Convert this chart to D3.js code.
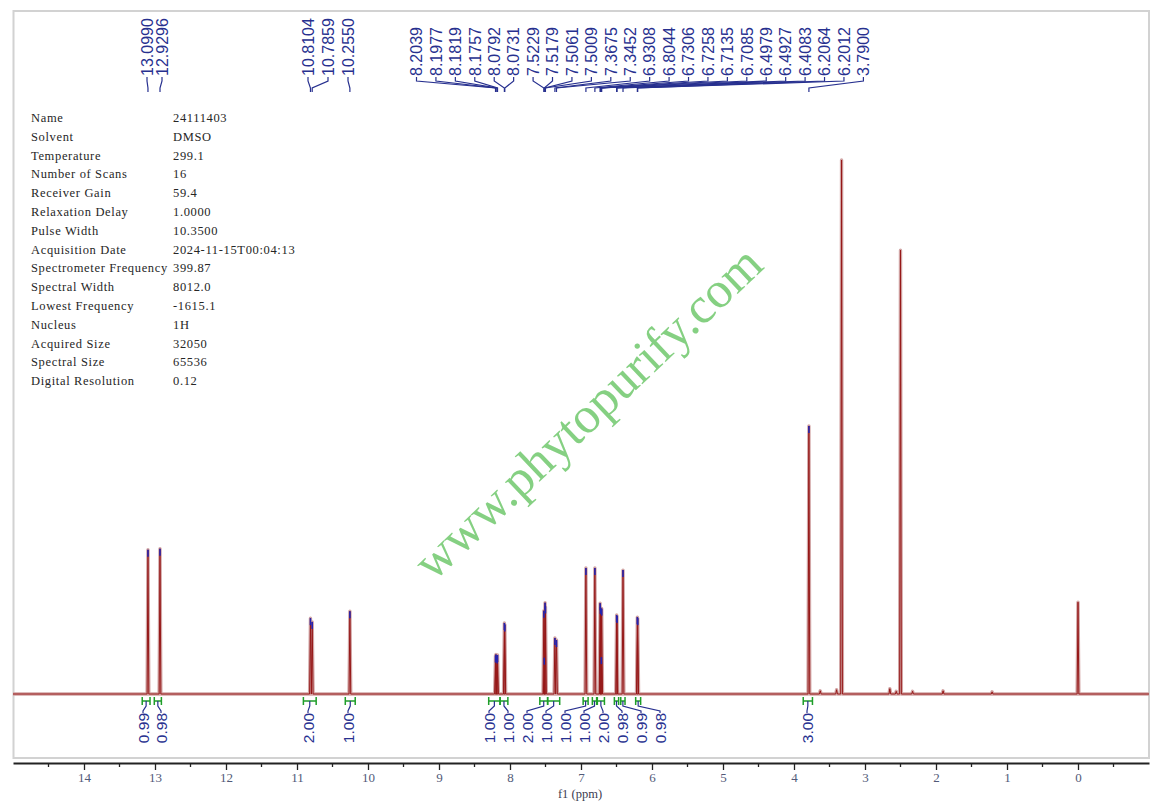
<!DOCTYPE html>
<html>
<head>
<meta charset="utf-8">
<script src="https://cdn.jsdelivr.net/npm/d3@7"></script>
<style>
  body { margin: 0; background: #fff; }
  svg { display: block; }
</style>
</head>
<body>
<div id="spectrum"></div>
<script>
// labelled peaks: shift (ppm) and relative height (water peak = 100)
var peakPpm = [13.0990, 12.9296, 10.8104, 10.7859, 10.2550, 8.2039, 8.1977, 8.1819, 8.1757,
  8.0792, 8.0731, 7.5229, 7.5179, 7.5061, 7.5009, 7.3675, 7.3452, 6.9308, 6.8044, 6.7306,
  6.7258, 6.7135, 6.7085, 6.4979, 6.4927, 6.4083, 6.2064, 6.2012, 3.7900];
var peakHeight = [27.0, 27.2, 14.2, 13.5, 15.5, 7.2, 7.4, 7.0, 7.3,
  13.3, 13.0, 15.6, 6.8, 17.1, 16.4, 10.5, 10.1, 23.6, 23.6, 17.0,
  16.3, 6.9, 16.0, 14.8, 14.6, 23.2, 14.4, 14.2, 50.2];

// solvent, water, TMS and small impurity peaks (not labelled)
var otherPpm = [3.33, 2.50, 0.00, 3.63, 3.40, 2.65, 2.56, 2.33, 1.90, 1.21];
var otherHeight = [100, 83.1, 17.2, 0.6, 0.8, 1.0, 0.5, 0.5, 0.6, 0.4];

// integrals
var intFrom = [13.18, 13.01, 10.91, 10.32, 8.30, 8.14, 7.58, 7.47, 6.97, 6.84, 6.77, 6.53, 6.44, 6.23, 3.87];
var intTo = [13.07, 12.91, 10.73, 10.18, 8.14, 8.03, 7.47, 7.30, 6.90, 6.78, 6.67, 6.47, 6.38, 6.16, 3.74];
var intValue = ["0.99", "0.98", "2.00", "1.00", "1.00", "1.00", "2.00", "1.00", "1.00", "1.00",
  "2.00", "0.98", "0.99", "0.98", "3.00"];

var majorTicks = [0, 1, 2, 3, 4, 5, 6, 7, 8, 9, 10, 11, 12, 13, 14];
var minorTicks = [-0.5, 0.5, 1.5, 2.5, 3.5, 4.5, 5.5, 6.5, 7.5, 8.5, 9.5, 10.5, 11.5, 12.5, 13.5, 14.5];

var metaNames = ["Name", "Solvent", "Temperature", "Number of Scans", "Receiver Gain",
  "Relaxation Delay", "Pulse Width", "Acquisition Date", "Spectrometer Frequency",
  "Spectral Width", "Lowest Frequency", "Nucleus", "Acquired Size", "Spectral Size",
  "Digital Resolution"];
var metaValues = ["24111403", "DMSO", "299.1", "16", "59.4", "1.0000", "10.3500",
  "2024-11-15T00:04:13", "399.87", "8012.0", "-1615.1", "1H", "32050", "65536", "0.12"];

// label placement (groups of evenly spaced labels)
var peakLabelGroups = [
  {count: 2, x0: 147, step: 15},
  {count: 3, x0: 308, step: 20},
  {count: 24, x0: 416.5, step: 19.43}
];
var intLabelGroups = [
  {count: 2, x0: 143, step: 18},
  {count: 1, x0: 308, step: 0},
  {count: 1, x0: 348, step: 0},
  {count: 10, x0: 489, step: 19},
  {count: 1, x0: 807, step: 0}
];

var width = 1162, height = 806;
var baseY = 694;

var svg = d3.select("#spectrum")
  .append("svg")
    .attr("width", width)
    .attr("height", height);

var x = d3.scaleLinear().domain([15, -1]).range([13, 1149]);
var y = d3.scaleLinear().domain([0, 100]).range([baseY, 160]);

// frame
svg.append("rect")
  .attr("x", 13.5).attr("y", 11)
  .attr("width", 1135.5).attr("height", 747)
  .attr("fill", "none")
  .attr("stroke", "#d2d2d2")
  .attr("stroke-width", 2);

// parameter table
var meta = svg.append("g")
  .style("font-family", "'Liberation Serif', 'Times New Roman', serif")
  .style("font-size", "12.5px")
  .style("letter-spacing", "0.65px")
  .attr("fill", "#262626");

meta.selectAll("text.name")
  .data(metaNames)
  .enter()
  .append("text")
    .attr("class", "name")
    .attr("x", 31)
    .attr("y", function(d, i) { return 122 + i * 18.8; })
    .text(function(d) { return d; });

meta.selectAll("text.value")
  .data(metaValues)
  .enter()
  .append("text")
    .attr("class", "value")
    .attr("x", 173)
    .attr("y", function(d, i) { return 122 + i * 18.8; })
    .text(function(d) { return d; });

// spectrum trace: build points from the peak lists
var allPeaks = [];
peakPpm.forEach(function(p, i) { allPeaks.push([p, peakHeight[i]]); });
otherPpm.forEach(function(p, i) { allPeaks.push([p, otherHeight[i]]); });
allPeaks.sort(function(a, b) { return b[0] - a[0]; });

var hw = 0.012;
var pts = [[15, 0]];
allPeaks.forEach(function(pk) {
  pts.push([pk[0] + hw, 0]);
  pts.push([pk[0], pk[1]]);
  pts.push([pk[0] - hw, 0]);
});
pts.push([-1, 0]);

var line = d3.line()
  .x(function(d) { return x(d[0]); })
  .y(function(d) { return y(d[1]); });

svg.append("path")
  .datum(pts)
  .attr("d", line)
  .attr("fill", "none")
  .attr("stroke", "#d2a6a6")
  .attr("stroke-width", 3.4)
  .attr("stroke-linejoin", "round");

svg.append("path")
  .datum(pts)
  .attr("d", line)
  .attr("fill", "none")
  .attr("stroke", "#961818")
  .attr("stroke-width", 1.0)
  .attr("stroke-linejoin", "round");

// blue tips on picked peaks
svg.selectAll("line.tip")
  .data(peakPpm)
  .enter()
  .append("line")
    .attr("class", "tip")
    .attr("x1", function(d) { return x(d); })
    .attr("x2", function(d) { return x(d); })
    .attr("y1", function(d, i) { return y(peakHeight[i]); })
    .attr("y2", function(d, i) { return y(peakHeight[i]) + 7; })
    .attr("stroke", "#2424b0")
    .attr("stroke-width", 1.6);

// label x positions
function spread(groups) {
  var out = [];
  groups.forEach(function(g) {
    for (var k = 0; k < g.count; k++) out.push(g.x0 + k * g.step);
  });
  return out;
}
var peakLabelX = spread(peakLabelGroups);
var intLabelX = spread(intLabelGroups);

var blue = "#27308f";

// peak labels + connectors
svg.selectAll("path.pconn")
  .data(peakPpm)
  .enter()
  .append("path")
    .attr("class", "pconn")
    .attr("d", function(d, i) {
      var lx = peakLabelX[i], px = x(d);
      return "M" + lx + ",77V81L" + px + ",88V92";
    })
    .attr("fill", "none")
    .attr("stroke", blue)
    .attr("stroke-width", 1.2);

svg.selectAll("text.plabel")
  .data(peakPpm)
  .enter()
  .append("text")
    .attr("class", "plabel")
    .attr("transform", function(d, i) { return "translate(" + peakLabelX[i] + ",76) rotate(-90)"; })
    .attr("dy", "0.36em")
    .attr("text-anchor", "start")
    .style("font-family", "'Liberation Sans', Arial, sans-serif")
    .style("font-size", "16px")
    .attr("fill", blue)
    .text(function(d) { return d.toFixed(4); });

// integrals
var integ = svg.append("g");
var green = "#1f9e2a";
var barY = 701;

integ.selectAll("path.bar")
  .data(intFrom)
  .enter()
  .append("path")
    .attr("class", "bar")
    .attr("d", function(d, i) {
      var a = x(d), b = x(intTo[i]);
      return "M" + a + "," + (barY - 4) + "V" + (barY + 4) +
        "M" + a + "," + barY + "H" + b +
        "M" + b + "," + (barY - 4) + "V" + (barY + 4);
    })
    .attr("fill", "none")
    .attr("stroke", green)
    .attr("stroke-width", 1.5);

integ.selectAll("path.iconn")
  .data(intFrom)
  .enter()
  .append("path")
    .attr("class", "iconn")
    .attr("d", function(d, i) {
      var m = (x(d) + x(intTo[i])) / 2, lx = intLabelX[i];
      return "M" + m + "," + barY + "V706L" + lx + ",711V713";
    })
    .attr("fill", "none")
    .attr("stroke", blue)
    .attr("stroke-width", 1.2);

integ.selectAll("text.ilabel")
  .data(intValue)
  .enter()
  .append("text")
    .attr("class", "ilabel")
    .attr("transform", function(d, i) { return "translate(" + intLabelX[i] + ",713) rotate(-90)"; })
    .attr("dy", "0.36em")
    .attr("text-anchor", "end")
    .style("font-family", "'Liberation Sans', Arial, sans-serif")
    .style("font-size", "15.5px")
    .attr("fill", blue)
    .text(function(d) { return d; });

// x axis
var axisG = svg.append("g")
  .attr("transform", "translate(0,763)");

axisG.call(d3.axisBottom(x)
  .tickValues(majorTicks)
  .tickSize(7)
  .tickSizeOuter(0)
  .tickFormat(d3.format("d")));

axisG.selectAll(".minor")
  .data(minorTicks)
  .enter()
  .append("line")
    .attr("class", "minor")
    .attr("x1", function(d) { return x(d); })
    .attr("x2", function(d) { return x(d); })
    .attr("y1", 0)
    .attr("y2", 4)
    .attr("stroke", "#222")
    .attr("stroke-width", 1.3);

axisG.select(".domain").attr("stroke", "#222").attr("stroke-width", 2);
axisG.selectAll(".tick line").attr("stroke", "#222").attr("stroke-width", 1.3);
axisG.selectAll(".tick text")
  .style("font-family", "'Liberation Serif', 'Times New Roman', serif")
  .style("font-size", "13px")
  .attr("fill", "#525a78");

svg.append("text")
  .attr("x", 580)
  .attr("y", 798)
  .attr("text-anchor", "middle")
  .style("font-family", "'Liberation Serif', 'Times New Roman', serif")
  .style("font-size", "12.5px")
  .attr("fill", "#3c3c50")
  .text("f1 (ppm)");

// watermark
svg.append("text")
  .attr("transform", "translate(587,412) rotate(-43.5)")
  .attr("text-anchor", "middle")
  .attr("dy", "0.35em")
  .style("font-family", "'Liberation Serif', 'Times New Roman', serif")
  .style("font-size", "51px")
  .attr("fill", "#66c463")
  .attr("fill-opacity", 0.8)
  .text("www.phytopurify.com");
</script>
</body>
</html>
